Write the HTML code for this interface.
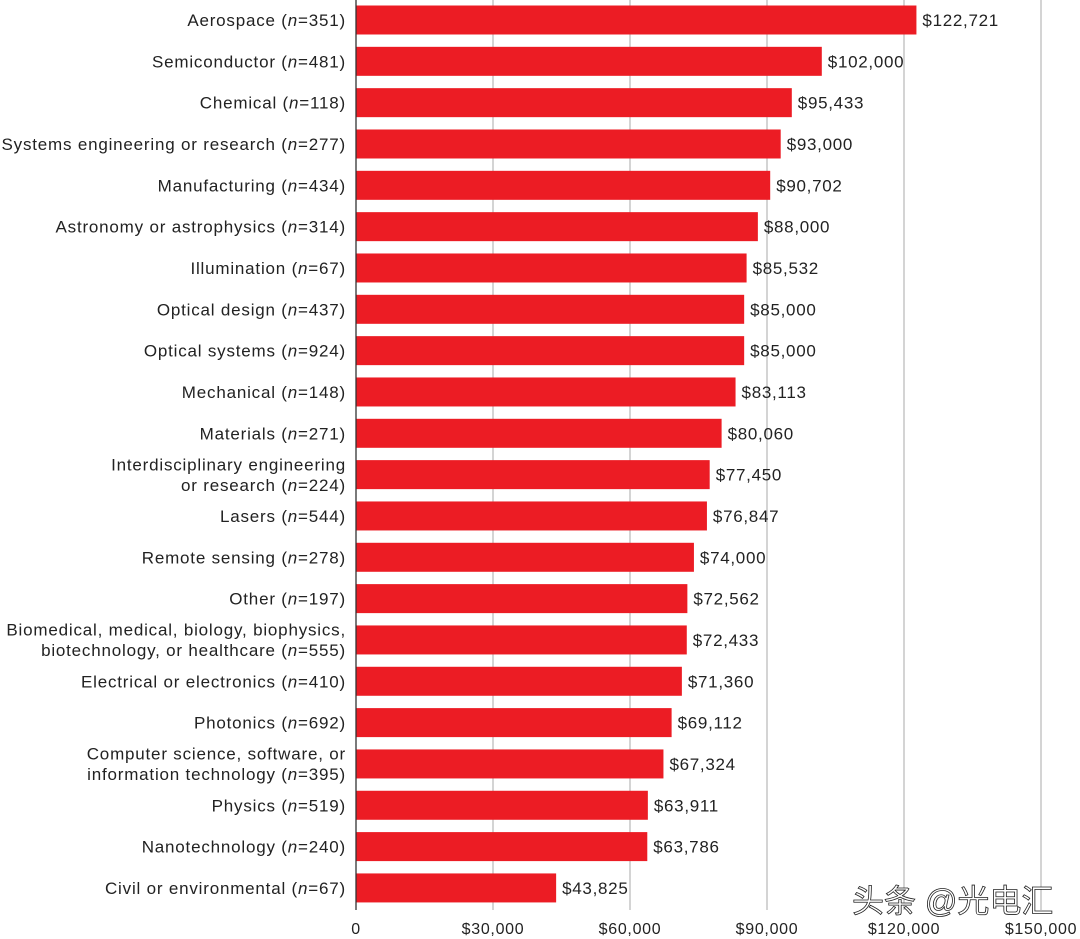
<!DOCTYPE html>
<html><head><meta charset="utf-8"><style>
html,body{margin:0;padding:0;background:#fff;}
svg{display:block;font-family:"Liberation Sans","Noto Sans CJK SC",sans-serif;}
</style></head><body>
<svg id="chart" width="1080" height="939"></svg>
<script>
const categories=[
["Aerospace (","351)"],["Semiconductor (","481)"],["Chemical (","118)"],["Systems engineering or research (","277)"],
["Manufacturing (","434)"],["Astronomy or astrophysics (","314)"],["Illumination (","67)"],["Optical design (","437)"],
["Optical systems (","924)"],["Mechanical (","148)"],["Materials (","271)"],["Interdisciplinary engineering|or research (","224)"],
["Lasers (","544)"],["Remote sensing (","278)"],["Other (","197)"],["Biomedical, medical, biology, biophysics,|biotechnology, or healthcare (","555)"],
["Electrical or electronics (","410)"],["Photonics (","692)"],["Computer science, software, or|information technology (","395)"],
["Physics (","519)"],["Nanotechnology (","240)"],["Civil or environmental (","67)"]];
const values=[122721,102000,95433,93000,90702,88000,85532,85000,85000,83113,80060,77450,76847,74000,72562,72433,71360,69112,67324,63911,63786,43825];
const ticks=[0,30000,60000,90000,120000,150000];
const tickLabels=["0","$30,000","$60,000","$90,000","$120,000","$150,000"];
const NS="http://www.w3.org/2000/svg";
const svg=document.getElementById('chart');
const x0=356,x1=1041,xmax=150000;
const xs=v=>x0+(v/xmax)*(x1-x0);
const rowTop=20,pitch=41.33,barH=29;
const yc=i=>rowTop+i*pitch;
function mk(t,a){const e=document.createElementNS(NS,t);for(const k in a)e.setAttribute(k,a[k]);svg.appendChild(e);return e;}
ticks.forEach((t,i)=>{
 if(i>0){const g=mk('line',{x1:xs(t),x2:xs(t),y1:0,y2:910,stroke:'#bdbdbd','stroke-width':1.3});
 
 }
 const l=mk('text',{x:xs(t),y:934,'text-anchor':'middle','font-size':16,'letter-spacing':0.7,fill:'#222'});l.textContent=tickLabels[i];
 
 
});
values.forEach((v,i)=>{
 const r=mk('rect',{x:x0,y:yc(i)-barH/2,width:xs(v)-x0,height:barH,fill:'#ec1c24'});
 
 
 const vt=mk('text',{x:xs(v)+6,y:yc(i)+6,'font-size':17,'letter-spacing':0.7,fill:'#222'});vt.textContent='$'+v.toLocaleString('en-US');
 
 
 const parts=categories[i][0].split('|');
 const lines=parts.length;
 parts.forEach((p,j)=>{
  const y=yc(i)+6+(j-(lines-1)/2)*20.5;
  const t=mk('text',{x:346,y:y,'text-anchor':'end','font-size':17,'letter-spacing':0.8,fill:'#222'});
  
  
  if(j===lines-1){
   const s1=document.createElementNS(NS,'tspan');s1.textContent=p;t.appendChild(s1);
   const s2=document.createElementNS(NS,'tspan');s2.setAttribute('font-style','italic');s2.textContent='n';t.appendChild(s2);
   const s3=document.createElementNS(NS,'tspan');s3.textContent='='+categories[i][1];t.appendChild(s3);
  } else t.textContent=p;
 });
});
const ax=mk('line',{x1:x0,x2:x0,y1:0,y2:910,stroke:'#333','stroke-width':1.3});


const wm=mk('text',{x:852,y:912,'font-size':32,fill:'#fff',stroke:'#222','stroke-width':0.8});
wm.textContent='头条 @光电汇';


</script>
</body></html>
